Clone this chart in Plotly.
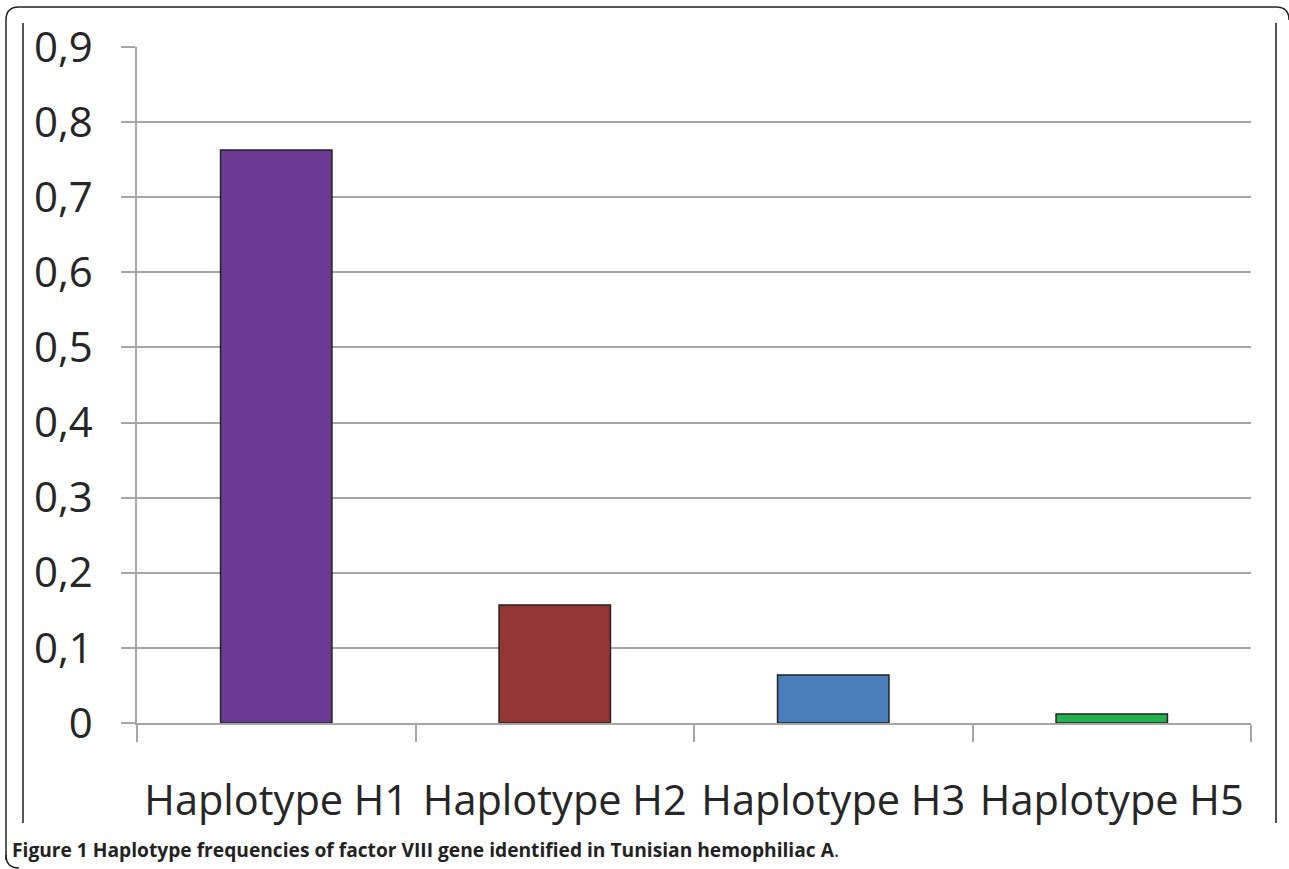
import plotly.graph_objects as go

categories = ["Haplotype H1", "Haplotype H2", "Haplotype H3", "Haplotype H5"]
frequencies = [0.763, 0.157, 0.064, 0.012]
bar_colors = ["#6B3A93", "#943634", "#4A7EBB", "#23B14D"]
y_ticks = [0, 0.1, 0.2, 0.3, 0.4, 0.5, 0.6, 0.7, 0.8, 0.9]
y_tick_labels = ["0", "0,1", "0,2", "0,3", "0,4", "0,5", "0,6", "0,7", "0,8", "0,9"]
caption_main = "Figure 1 Haplotype frequencies of factor VIII gene identified in Tunisian hemophiliac A"
caption_end = "."

W, H = 1289, 869
L, R, T, B = 137, 1251, 47, 723


def px(x):
    return (x - L) / (R - L)


def py(y):
    return (B - y) / (B - T)


fig = go.Figure()
fig.add_trace(go.Bar(
    x=categories, y=frequencies,
    marker=dict(color=bar_colors, line=dict(color="#222222", width=1.5)),
    width=0.4,
))

grid = "#A6A6A6"
fig.update_layout(
    width=W, height=H,
    margin=dict(l=L, r=W - R, t=T, b=H - B, pad=0),
    paper_bgcolor="white", plot_bgcolor="white",
    showlegend=False,
    font=dict(family="Open Sans", color="#262626"),
    xaxis=dict(
        type="category", showline=True, linecolor=grid, linewidth=2,
        ticks="outside", tickson="boundaries", ticklen=17, tickcolor=grid, tickwidth=1.5,
        tickfont=dict(size=41.5, color="#262626", family="Open Sans"),
        ticklabelstandoff=40, showgrid=False,
    ),
    yaxis=dict(
        range=[0, 0.9], tickvals=y_ticks, ticktext=y_tick_labels,
        showgrid=True, gridcolor=grid, gridwidth=1.5,
        showline=True, linecolor=grid, linewidth=1.5,
        ticks="outside", ticklen=14, tickcolor=grid, tickwidth=1.5,
        tickfont=dict(size=42, color="#262626", family="Open Sans"),
        ticklabelstandoff=20, zeroline=False,
    ),
)

# frame of the figure
frame_path = (
    f"M {px(6)},{py(860)} L {px(6)},{py(20)} Q {px(6)},{py(7)} {px(19)},{py(7)} "
    f"L {px(1276)},{py(7)} Q {px(1289)},{py(7)} {px(1289)},{py(20)}"
)
fig.add_shape(type="path", path=frame_path, xref="paper", yref="paper",
              line=dict(color="#222222", width=1.5))
fig.add_shape(type="path",
              path=f"M {px(6)},{py(855)} Q {px(6)},{py(868)} {px(19)},{py(868)}",
              xref="paper", yref="paper", line=dict(color="#222222", width=1.5))
# inner vertical lines
for xv in (23, 1276):
    fig.add_shape(type="line", xref="paper", yref="paper",
                  x0=px(xv), x1=px(xv), y0=py(23), y1=py(823),
                  line=dict(color="#555555", width=2))

fig.add_annotation(
    xref="paper", yref="paper", x=px(10), y=py(849),
    xanchor="left", yanchor="middle", showarrow=False,
    text=f"<b>{caption_main}</b>{caption_end}",
    font=dict(family="Open Sans", size=19.2, color="#222222"),
)

fig.write_html("out.html", config={"displayModeBar": False},
               post_script="document.body.style.margin='0';document.body.style.overflow='hidden';")
